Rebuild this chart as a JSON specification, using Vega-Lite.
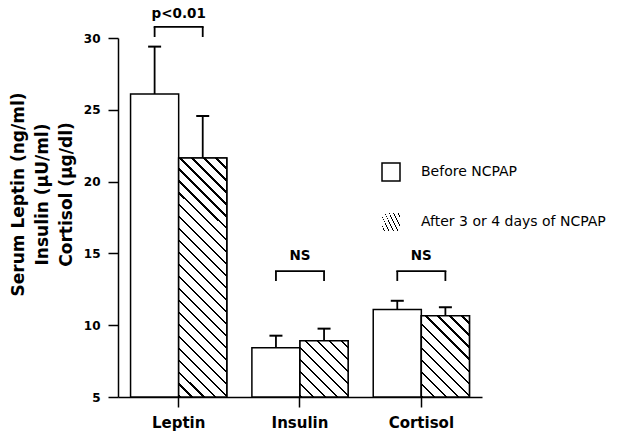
{
  "$schema": "https://vega.github.io/schema/vega-lite/v6.json",
  "width": 364,
  "height": 359,
  "autosize": {"type": "none"},
  "padding": {"left": 118, "top": 38, "right": 140, "bottom": 35},
  "background": "white",
  "config": {
    "font": "DejaVu Sans",
    "view": {"stroke": null},
    "axis": {
      "ticks": true, "tickSize": 10, "tickColor": "black", "tickWidth": 1.5, "tickOpacity": 1,
      "tickCap": "butt", "tickDash": [],
      "domainColor": "black", "domainWidth": 1.5, "grid": false,
      "labelFont": "DejaVu Sans", "labelFontWeight": "bold", "labelColor": "black"
    }
  },
  "datasets": {
    "bars": [
      {"hormone": "Leptin", "period": "Before NCPAP", "mean": 26.1, "upper": 29.4},
      {"hormone": "Leptin", "period": "After 3 or 4 days of NCPAP", "mean": 21.65, "upper": 24.57},
      {"hormone": "Insulin", "period": "Before NCPAP", "mean": 8.43, "upper": 9.27},
      {"hormone": "Insulin", "period": "After 3 or 4 days of NCPAP", "mean": 8.92, "upper": 9.76},
      {"hormone": "Cortisol", "period": "Before NCPAP", "mean": 11.1, "upper": 11.7},
      {"hormone": "Cortisol", "period": "After 3 or 4 days of NCPAP", "mean": 10.66, "upper": 11.25}
    ],
    "ends": [
      {"hormone": "Leptin", "period": "Before NCPAP", "top": 30.77, "low": 30.07},
      {"hormone": "Leptin", "period": "After 3 or 4 days of NCPAP", "top": 30.77, "low": 30.07},
      {"hormone": "Insulin", "period": "Before NCPAP", "top": 13.77, "low": 13.08},
      {"hormone": "Insulin", "period": "After 3 or 4 days of NCPAP", "top": 13.77, "low": 13.08},
      {"hormone": "Cortisol", "period": "Before NCPAP", "top": 13.77, "low": 13.08},
      {"hormone": "Cortisol", "period": "After 3 or 4 days of NCPAP", "top": 13.77, "low": 13.08}
    ],
    "brackets": [
      {"hormone": "Leptin", "top": 30.77, "label": "p<0.01", "ty": 31.4},
      {"hormone": "Insulin", "top": 13.77, "label": "NS", "ty": 14.54},
      {"hormone": "Cortisol", "top": 13.77, "label": "NS", "ty": 14.54}
    ]
  },
  "data": {"name": "bars"},
  "layer": [
    {
      "mark": {"type": "bar", "stroke": "black", "strokeWidth": 1.5},
      "encoding": {
        "x": {
          "field": "hormone", "type": "nominal",
          "scale": {"domain": ["Leptin", "Insulin", "Cortisol"], "paddingInner": 0.207, "paddingOuter": 0.1035},
          "axis": {
            "title": null, "labelAngle": 0, "labelFontSize": 15, "labelPadding": 8, "bandPosition": 0.5,
            "ticks": true, "tickSize": 10, "tickColor": "black", "tickWidth": 1.5
          }
        },
        "xOffset": {
          "field": "period", "type": "nominal",
          "scale": {"domain": ["Before NCPAP", "After 3 or 4 days of NCPAP"], "paddingInner": 0, "paddingOuter": 0}
        },
        "y": {
          "field": "mean", "type": "quantitative",
          "scale": {"domain": [5, 30], "nice": false, "zero": false},
          "axis": {
            "values": [5, 10, 15, 20, 25, 30],
            "title": ["Serum Leptin (ng/ml)", "Insulin (μU/ml)", "Cortisol (μg/dl)"],
            "titleFont": "DejaVu Sans", "titleFontWeight": "bold", "titleFontSize": 17,
            "titleColor": "black", "titleAngle": 270, "titleAlign": "center", "titleBaseline": "top",
            "titleX": -108, "titleY": 156, "titleLineHeight": 24,
            "labelFontSize": 12, "labelPadding": 8,
            "ticks": true, "tickSize": 10, "tickColor": "black", "tickWidth": 1.5
          }
        },
        "y2": {"datum": 5},
        "fill": {
          "field": "period", "type": "nominal",
          "scale": {"domain": ["Before NCPAP", "After 3 or 4 days of NCPAP"], "range": ["white", "white"]},
          "legend": {
            "orient": "none", "legendX": 263, "legendY": 124, "title": null,
            "values": ["Before NCPAP"],
            "symbolType": "square", "symbolSize": 324, "symbolStrokeColor": "black",
            "symbolStrokeWidth": 1.5, "labelFont": "DejaVu Sans", "labelFontSize": 14,
            "labelColor": "black", "labelOffset": 20, "labelLimit": 400,
            "encode": {
              "symbols": {
                "update": {
                  "stroke": {"value": "black"},
                  "strokeWidth": {"value": 1.5},
                  "opacity": {"value": 1}
                }
              }
            }
          }
        }
      }
    },
    {
      "transform": [{"filter": "datum.hormone === 'Leptin' && datum.period === 'After 3 or 4 days of NCPAP'"}],
      "mark": {
        "type": "bar", "stroke": "black", "strokeWidth": 1.5,
        "fill": {
          "gradient": "linear", "x1": 0, "y1": 1, "x2": 0.232, "y2": -0.154,
          "stops": [
            {"offset": 0, "color": "black"}, {"offset": 0.0083, "color": "black"}, {"offset": 0.0083, "color": "white"}, {"offset": 0.0417, "color": "white"},
            {"offset": 0.0417, "color": "black"}, {"offset": 0.05, "color": "black"}, {"offset": 0.05, "color": "white"}, {"offset": 0.0833, "color": "white"},
            {"offset": 0.0833, "color": "black"}, {"offset": 0.0917, "color": "black"}, {"offset": 0.0917, "color": "white"}, {"offset": 0.125, "color": "white"},
            {"offset": 0.125, "color": "black"}, {"offset": 0.1333, "color": "black"}, {"offset": 0.1333, "color": "white"}, {"offset": 0.1667, "color": "white"},
            {"offset": 0.1667, "color": "black"}, {"offset": 0.175, "color": "black"}, {"offset": 0.175, "color": "white"}, {"offset": 0.2083, "color": "white"},
            {"offset": 0.2083, "color": "black"}, {"offset": 0.2167, "color": "black"}, {"offset": 0.2167, "color": "white"}, {"offset": 0.25, "color": "white"},
            {"offset": 0.25, "color": "black"}, {"offset": 0.2583, "color": "black"}, {"offset": 0.2583, "color": "white"}, {"offset": 0.2917, "color": "white"},
            {"offset": 0.2917, "color": "black"}, {"offset": 0.3, "color": "black"}, {"offset": 0.3, "color": "white"}, {"offset": 0.3333, "color": "white"},
            {"offset": 0.3333, "color": "black"}, {"offset": 0.3417, "color": "black"}, {"offset": 0.3417, "color": "white"}, {"offset": 0.375, "color": "white"},
            {"offset": 0.375, "color": "black"}, {"offset": 0.3833, "color": "black"}, {"offset": 0.3833, "color": "white"}, {"offset": 0.4167, "color": "white"},
            {"offset": 0.4167, "color": "black"}, {"offset": 0.425, "color": "black"}, {"offset": 0.425, "color": "white"}, {"offset": 0.4583, "color": "white"},
            {"offset": 0.4583, "color": "black"}, {"offset": 0.4667, "color": "black"}, {"offset": 0.4667, "color": "white"}, {"offset": 0.5, "color": "white"},
            {"offset": 0.5, "color": "black"}, {"offset": 0.5083, "color": "black"}, {"offset": 0.5083, "color": "white"}, {"offset": 0.5417, "color": "white"},
            {"offset": 0.5417, "color": "black"}, {"offset": 0.55, "color": "black"}, {"offset": 0.55, "color": "white"}, {"offset": 0.5833, "color": "white"},
            {"offset": 0.5833, "color": "black"}, {"offset": 0.5917, "color": "black"}, {"offset": 0.5917, "color": "white"}, {"offset": 0.625, "color": "white"},
            {"offset": 0.625, "color": "black"}, {"offset": 0.6333, "color": "black"}, {"offset": 0.6333, "color": "white"}, {"offset": 0.6667, "color": "white"},
            {"offset": 0.6667, "color": "black"}, {"offset": 0.675, "color": "black"}, {"offset": 0.675, "color": "white"}, {"offset": 0.7083, "color": "white"},
            {"offset": 0.7083, "color": "black"}, {"offset": 0.7167, "color": "black"}, {"offset": 0.7167, "color": "white"}, {"offset": 0.75, "color": "white"},
            {"offset": 0.75, "color": "black"}, {"offset": 0.7583, "color": "black"}, {"offset": 0.7583, "color": "white"}, {"offset": 0.7917, "color": "white"},
            {"offset": 0.7917, "color": "black"}, {"offset": 0.8, "color": "black"}, {"offset": 0.8, "color": "white"}, {"offset": 0.8333, "color": "white"},
            {"offset": 0.8333, "color": "black"}, {"offset": 0.8417, "color": "black"}, {"offset": 0.8417, "color": "white"}, {"offset": 0.875, "color": "white"},
            {"offset": 0.875, "color": "black"}, {"offset": 0.8833, "color": "black"}, {"offset": 0.8833, "color": "white"}, {"offset": 0.9167, "color": "white"},
            {"offset": 0.9167, "color": "black"}, {"offset": 0.925, "color": "black"}, {"offset": 0.925, "color": "white"}, {"offset": 0.9583, "color": "white"},
            {"offset": 0.9583, "color": "black"}, {"offset": 0.9667, "color": "black"}, {"offset": 0.9667, "color": "white"}, {"offset": 1, "color": "white"}
          ]
        }
      },
      "encoding": {
        "x": {"field": "hormone", "type": "nominal"},
        "xOffset": {"field": "period", "type": "nominal"},
        "y": {"field": "mean", "type": "quantitative"},
        "y2": {"datum": 5},
        "opacity": {
          "field": "period", "type": "ordinal",
          "scale": {"type": "ordinal", "domain": ["After 3 or 4 days of NCPAP"], "range": [1]},
          "legend": {
            "orient": "none", "legendX": 263, "legendY": 174, "title": null,
            "symbolType": "square", "symbolSize": 324, "symbolStrokeColor": "black",
            "symbolStrokeWidth": 1.5, "labelFont": "DejaVu Sans", "labelFontSize": 14,
            "labelColor": "black", "labelOffset": 20, "labelLimit": 400,
            "encode": {
              "symbols": {
                "update": {
                  "stroke": {"value": "black"},
                  "strokeWidth": {"value": 1.5},
                  "opacity": {"value": 1},
                  "fill": {"value": {
                    "gradient": "linear", "x1": 0, "y1": 1, "x2": 1, "y2": 0,
                    "stops": [
                      {"offset": 0, "color": "white"},
                      {"offset": 0.137, "color": "white"}, {"offset": 0.137, "color": "black"}, {"offset": 0.203, "color": "black"}, {"offset": 0.203, "color": "white"},
                      {"offset": 0.467, "color": "white"}, {"offset": 0.467, "color": "black"}, {"offset": 0.533, "color": "black"}, {"offset": 0.533, "color": "white"},
                      {"offset": 0.797, "color": "white"}, {"offset": 0.797, "color": "black"}, {"offset": 0.863, "color": "black"}, {"offset": 0.863, "color": "white"},
                      {"offset": 1, "color": "white"}
                    ]
                  }}
                }
              }
            }
          }
        }
      }
    },
    {
      "transform": [{"filter": "datum.hormone === 'Insulin' && datum.period === 'After 3 or 4 days of NCPAP'"}],
      "mark": {
        "type": "bar", "stroke": "black", "strokeWidth": 1.5,
        "fill": {
          "gradient": "linear", "x1": 0, "y1": 1, "x2": 0.918, "y2": -0.071,
          "stops": [
            {"offset": 0, "color": "black"}, {"offset": 0.0231, "color": "black"}, {"offset": 0.0231, "color": "white"}, {"offset": 0.1154, "color": "white"},
            {"offset": 0.1154, "color": "black"}, {"offset": 0.1385, "color": "black"}, {"offset": 0.1385, "color": "white"}, {"offset": 0.2308, "color": "white"},
            {"offset": 0.2308, "color": "black"}, {"offset": 0.2539, "color": "black"}, {"offset": 0.2539, "color": "white"}, {"offset": 0.3462, "color": "white"},
            {"offset": 0.3462, "color": "black"}, {"offset": 0.3693, "color": "black"}, {"offset": 0.3693, "color": "white"}, {"offset": 0.4615, "color": "white"},
            {"offset": 0.4615, "color": "black"}, {"offset": 0.4846, "color": "black"}, {"offset": 0.4846, "color": "white"}, {"offset": 0.5769, "color": "white"},
            {"offset": 0.5769, "color": "black"}, {"offset": 0.6, "color": "black"}, {"offset": 0.6, "color": "white"}, {"offset": 0.6923, "color": "white"},
            {"offset": 0.6923, "color": "black"}, {"offset": 0.7154, "color": "black"}, {"offset": 0.7154, "color": "white"}, {"offset": 0.8077, "color": "white"},
            {"offset": 0.8077, "color": "black"}, {"offset": 0.8308, "color": "black"}, {"offset": 0.8308, "color": "white"}, {"offset": 0.9231, "color": "white"},
            {"offset": 0.9231, "color": "black"}, {"offset": 0.9462, "color": "black"}, {"offset": 0.9462, "color": "white"}, {"offset": 1, "color": "white"}
          ]
        }
      },
      "encoding": {
        "x": {"field": "hormone", "type": "nominal"},
        "xOffset": {"field": "period", "type": "nominal"},
        "y": {"field": "mean", "type": "quantitative"},
        "y2": {"datum": 5}
      }
    },
    {
      "transform": [{"filter": "datum.hormone === 'Cortisol' && datum.period === 'After 3 or 4 days of NCPAP'"}],
      "mark": {
        "type": "bar", "stroke": "black", "strokeWidth": 1.5,
        "fill": {
          "gradient": "linear", "x1": 0, "y1": 1, "x2": 0.698, "y2": -0.179,
          "stops": [
            {"offset": 0, "color": "black"}, {"offset": 0.0186, "color": "black"}, {"offset": 0.0186, "color": "white"}, {"offset": 0.093, "color": "white"},
            {"offset": 0.093, "color": "black"}, {"offset": 0.1116, "color": "black"}, {"offset": 0.1116, "color": "white"}, {"offset": 0.186, "color": "white"},
            {"offset": 0.186, "color": "black"}, {"offset": 0.2046, "color": "black"}, {"offset": 0.2046, "color": "white"}, {"offset": 0.2791, "color": "white"},
            {"offset": 0.2791, "color": "black"}, {"offset": 0.2977, "color": "black"}, {"offset": 0.2977, "color": "white"}, {"offset": 0.3721, "color": "white"},
            {"offset": 0.3721, "color": "black"}, {"offset": 0.3907, "color": "black"}, {"offset": 0.3907, "color": "white"}, {"offset": 0.4651, "color": "white"},
            {"offset": 0.4651, "color": "black"}, {"offset": 0.4837, "color": "black"}, {"offset": 0.4837, "color": "white"}, {"offset": 0.5581, "color": "white"},
            {"offset": 0.5581, "color": "black"}, {"offset": 0.5767, "color": "black"}, {"offset": 0.5767, "color": "white"}, {"offset": 0.6512, "color": "white"},
            {"offset": 0.6512, "color": "black"}, {"offset": 0.6698, "color": "black"}, {"offset": 0.6698, "color": "white"}, {"offset": 0.7442, "color": "white"},
            {"offset": 0.7442, "color": "black"}, {"offset": 0.7628, "color": "black"}, {"offset": 0.7628, "color": "white"}, {"offset": 0.8372, "color": "white"},
            {"offset": 0.8372, "color": "black"}, {"offset": 0.8558, "color": "black"}, {"offset": 0.8558, "color": "white"}, {"offset": 0.9302, "color": "white"},
            {"offset": 0.9302, "color": "black"}, {"offset": 0.9488, "color": "black"}, {"offset": 0.9488, "color": "white"}, {"offset": 1, "color": "white"}
          ]
        }
      },
      "encoding": {
        "x": {"field": "hormone", "type": "nominal"},
        "xOffset": {"field": "period", "type": "nominal"},
        "y": {"field": "mean", "type": "quantitative"},
        "y2": {"datum": 5}
      }
    },
    {
      "mark": {"type": "rule", "color": "black", "strokeWidth": 1.8},
      "encoding": {
        "x": {"field": "hormone", "type": "nominal"},
        "xOffset": {"field": "period", "type": "nominal"},
        "y": {"field": "mean", "type": "quantitative"},
        "y2": {"field": "upper"}
      }
    },
    {
      "mark": {"type": "tick", "orient": "horizontal", "color": "black", "size": 13, "thickness": 2, "opacity": 1},
      "encoding": {
        "x": {"field": "hormone", "type": "nominal"},
        "xOffset": {"field": "period", "type": "nominal"},
        "y": {"field": "upper", "type": "quantitative"}
      }
    },
    {
      "data": {"name": "ends"},
      "mark": {"type": "rule", "color": "black", "strokeWidth": 1.8},
      "encoding": {
        "x": {"field": "hormone", "type": "nominal"},
        "xOffset": {"field": "period", "type": "nominal"},
        "y": {"field": "top", "type": "quantitative"},
        "y2": {"field": "low"}
      }
    },
    {
      "data": {"name": "brackets"},
      "mark": {"type": "tick", "orient": "horizontal", "color": "black", "size": 50, "thickness": 1.8, "opacity": 1},
      "encoding": {
        "x": {"field": "hormone", "type": "nominal"},
        "y": {"field": "top", "type": "quantitative"}
      }
    },
    {
      "data": {"name": "brackets"},
      "mark": {"type": "text", "font": "DejaVu Sans", "fontWeight": "bold", "fontSize": 13.5, "color": "black", "baseline": "alphabetic", "align": "center"},
      "encoding": {
        "x": {"field": "hormone", "type": "nominal"},
        "y": {"field": "ty", "type": "quantitative"},
        "text": {"field": "label"}
      }
    }
  ]
}
